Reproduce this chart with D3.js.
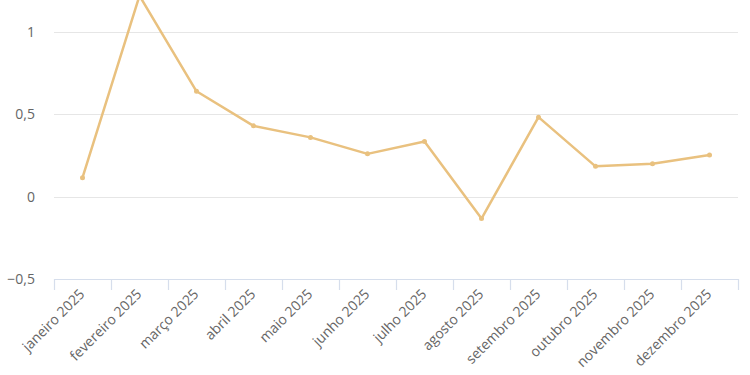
<!DOCTYPE html>
<html><head><meta charset="utf-8">
<script src="https://cdn.jsdelivr.net/npm/d3@7"></script>
<style>body{margin:0;background:#fff}svg{display:block}text{font-family:"Open Sans","Noto Sans",sans-serif;}</style>
</head><body><svg id="c" width="750" height="375"></svg>
<script>
const categories = ["janeiro 2025","fevereiro 2025","março 2025","abril 2025","maio 2025","junho 2025","julho 2025","agosto 2025","setembro 2025","outubro 2025","novembro 2025","dezembro 2025"];
const values = [0.115, 1.22, 0.64, 0.43, 0.36, 0.26, 0.335, -0.133, 0.483, 0.184, 0.2, 0.253];
const yTicks = [-0.5, 0, 0.5, 1];
const yTickLabels = ["−0,5", "0", "0,5", "1"];

(function () {
const svg = d3.select("#c");
const pl = 54, pr = 738, pt = 32, pb = 279;
const x = d3.scaleBand().domain(categories).range([pl, pr]);
const y = d3.scaleLinear().domain([-0.5, 1]).range([pb, pt]);

// grid
svg.append("g").selectAll("line").data(yTicks.filter(d => d !== -0.5)).join("line")
  .attr("x1", pl).attr("x2", pr)
  .attr("y1", d => Math.round(y(d)) + 0.5).attr("y2", d => Math.round(y(d)) + 0.5)
  .attr("stroke", "#e6e6e6").attr("stroke-width", 1);

// y labels
svg.append("g").selectAll("text").data(yTicks).join("text")
  .attr("x", 35).attr("y", d => y(d)).attr("dy", "0.35em")
  .attr("text-anchor", "end").attr("fill", "#666").attr("font-size", 14)
  .text((d, i) => yTickLabels[i]);

// x axis line and ticks
svg.append("line").attr("x1", pl).attr("x2", pr)
  .attr("y1", pb + 0.5).attr("y2", pb + 0.5)
  .attr("stroke", "#d6deec").attr("stroke-width", 1.2);
const bounds = categories.map(c => x(c)).concat([pr]);
svg.append("g").selectAll("line").data(bounds).join("line")
  .attr("x1", d => Math.round(d) + 0.5).attr("x2", d => Math.round(d) + 0.5)
  .attr("y1", pb).attr("y2", pb + 11)
  .attr("stroke", "#d6deec").attr("stroke-width", 1.2);

// x labels
svg.append("g").selectAll("text").data(categories).join("text")
  .attr("transform", d => `translate(${x(d) + x.bandwidth() / 2 + 3},${pb + 16}) rotate(-45)`)
  .attr("text-anchor", "end").attr("fill", "#666").attr("font-size", 14)
  .text(d => d);

// line
const line = d3.line().x((d, i) => x(categories[i]) + x.bandwidth() / 2).y(d => y(d));
svg.append("path").datum(values).attr("d", line)
  .attr("fill", "none").attr("stroke", "#e9c17f").attr("stroke-width", 2.5)
  .attr("stroke-linejoin", "round");

svg.append("g").selectAll("circle").data(values).join("circle")
  .attr("cx", (d, i) => x(categories[i]) + x.bandwidth() / 2)
  .attr("cy", d => y(d)).attr("r", 2.5).attr("fill", "#e9c17f");
})();
</script></body></html>
